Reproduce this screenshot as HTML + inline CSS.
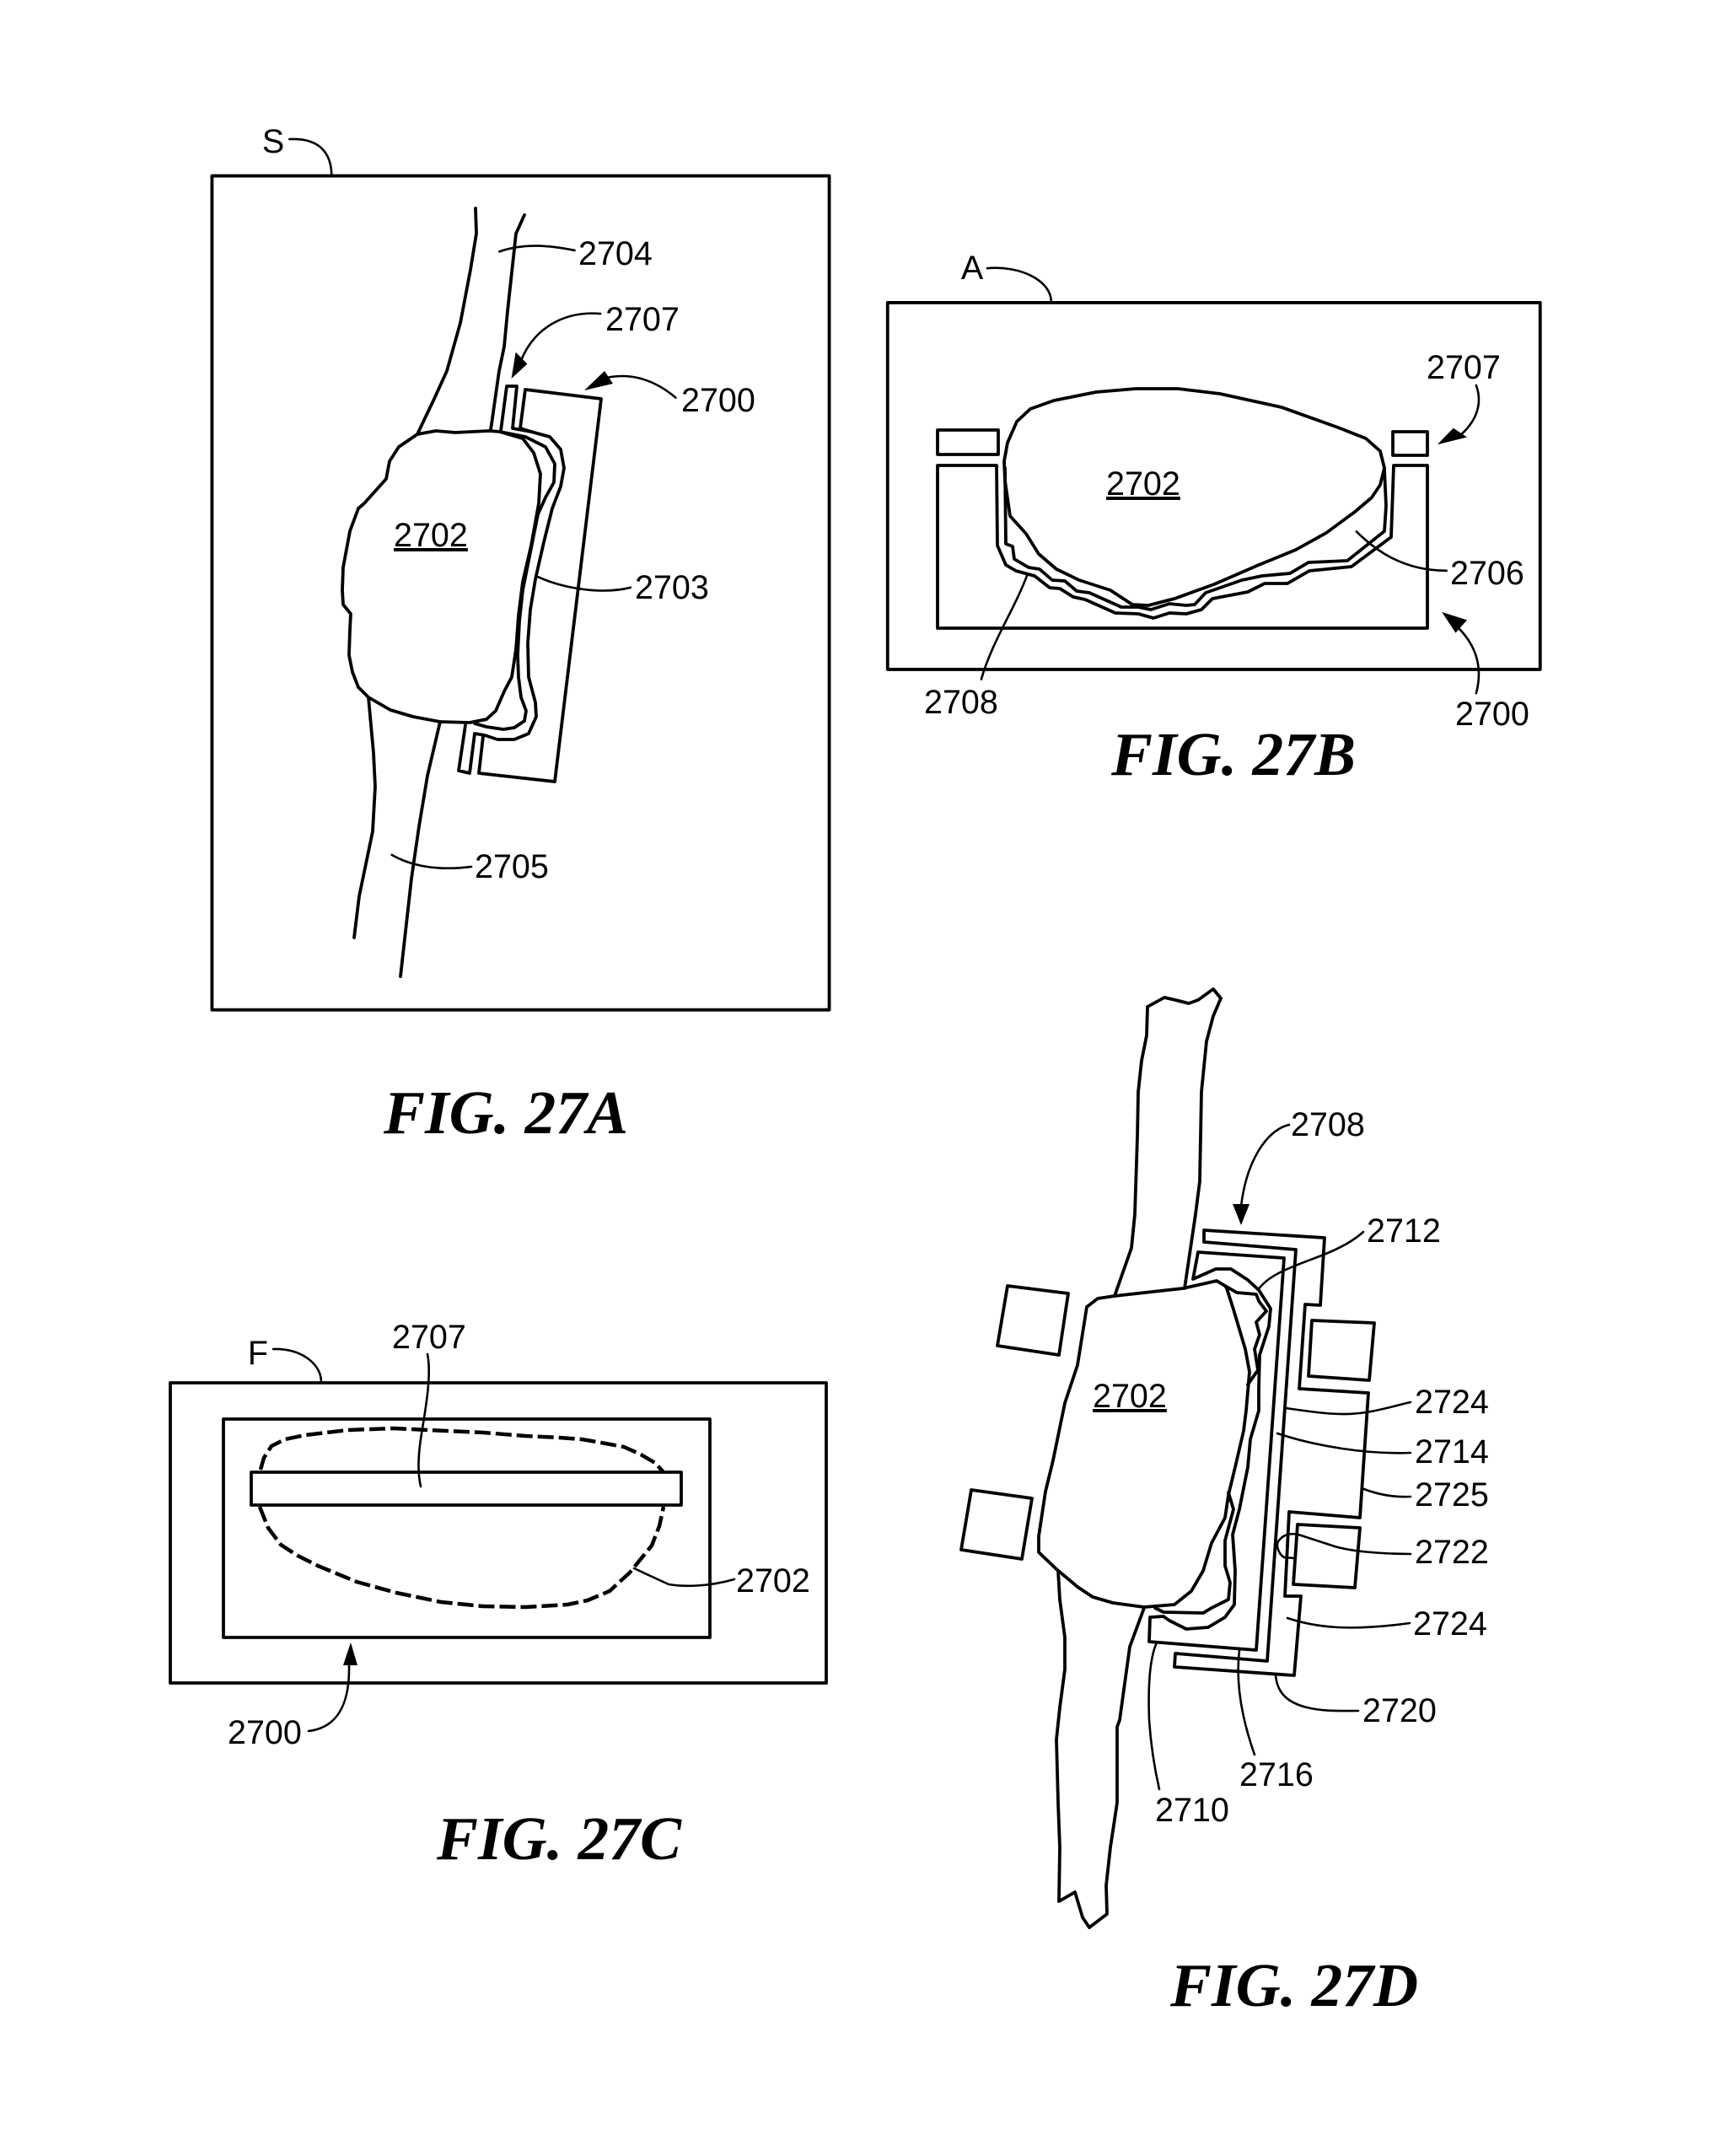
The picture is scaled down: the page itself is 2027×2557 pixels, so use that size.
<!DOCTYPE html>
<html><head><meta charset="utf-8"><style>
html,body{margin:0;padding:0;background:#fff}
svg{display:block}
.l{fill:none;stroke:#000;stroke-width:3.8;stroke-linejoin:round;stroke-linecap:round}
.t{fill:none;stroke:#000;stroke-width:2.6;stroke-linecap:round;stroke-linejoin:round}
.d{fill:none;stroke:#000;stroke-width:4.5;stroke-dasharray:19 6;stroke-linejoin:round}
path,rect,polyline,polygon{vector-effect:non-scaling-stroke}
text{font-family:"Liberation Sans",sans-serif;font-size:39.5px;fill:#000}
.f{font-family:"Liberation Serif",serif;font-weight:bold;font-style:italic;font-size:73.5px}
.u{text-decoration:underline}
</style></head><body>
<svg width="2027" height="2557" viewBox="0 0 2027 2557" xmlns="http://www.w3.org/2000/svg">
<rect width="2027" height="2557" fill="#fff"/>

<!-- FIG 27A -->
<g transform="translate(230 130) scale(.5102 .7015)">
<rect class="l" x="42" y="112" width="1435" height="1410"/>
<path class="t" d="M222,50 C270,48 320,60 320,112"/>
<path class="t" d="M710,240 C770,225 830,230 885,238"/>
<path class="t" d="M945,345 C860,340 790,370 760,425"/>
<polygon points="738,455 748,410 775,430" fill="#000"/>
<path class="t" d="M1120,487 C1060,450 1000,445 950,455"/>
<path class="t" d="M800,790 C860,810 950,820 1015,808"/>
<path class="t" d="M460,1260 C520,1285 590,1285 645,1280"/>
</g>
<polygon points="693,463 717,440 727,455" fill="#000"/>
<polyline class="l" points="564,247 565,277 558,320 546,383 530,440 515,473 495,515"/>
<polyline class="l" points="622,255 612,277 602,369 598,411 592,440 582,510"/>
<polyline class="l" points="437,827 443,893 445,933 442,986 426,1063 420,1112"/>
<polyline class="l" points="522,856 507,920 497,980 488,1042 475,1158"/>
<polyline class="l" points="573,873 568,917 658,927 713,473 623,462 617,508 630,512 652,518 665,533 669,555 665,577 655,603 645,643 635,687 629,723 626,763 627,803 635,833 636,850 627,870 610,877 590,877 575,872 563,870 557,917 544,914 552,860"/>
<polyline class="l" points="594,511 601,458 613,458 608,508 630,512"/>
<polyline class="l" points="593,512 623,518 647,530 658,550 657,572 647,590 638,610 628,660 620,700 616,737 614,777 615,803 618,827 624,843 622,855 610,863 597,865 577,862 563,858"/>
<polygon class="l" points="495,515 517,511 540,513 580,511 593,512 620,520 633,537 641,562 639,597 630,647 620,690 615,730 612,770 607,803 598,820 588,843 577,853 557,857 522,856 490,850 463,842 437,827 425,815 418,797 414,777 415,747 416,728 407,717 406,700 407,673 415,630 425,603 432,597 458,568 462,547 473,530"/>
<text x="324" y="181" text-anchor="middle">S</text>
<text x="686" y="314">2704</text>
<text x="718" y="392">2707</text>
<text x="808" y="488">2700</text>
<text x="753" y="710">2703</text>
<text x="563" y="1041">2705</text>
<text class="u" x="467" y="648">2702</text>
<text class="f" x="455" y="1344">FIG. 27A</text>

<!-- FIG 27B -->
<g transform="translate(1030 280) scale(.542 .4337)">
<rect class="l" x="42" y="182" width="1428" height="1003"/>
<path class="t" d="M260,88 C330,80 400,120 400,180"/>
<path class="t" d="M1068,808 C1110,860 1170,915 1265,915"/>
<path class="t" d="M348,925 C320,1020 270,1110 247,1212"/>
<path class="t" d="M1330,408 C1345,460 1330,510 1290,550"/>
<polygon points="1245,570 1280,525 1310,550" fill="#000"/>
<path class="t" d="M1330,1250 C1345,1180 1330,1120 1290,1070"/>
<polygon points="1255,1028 1310,1050 1285,1085" fill="#000"/>
</g>
<rect class="l" x="1112" y="510" width="72" height="29"/>
<rect class="l" x="1652" y="512" width="41" height="28"/>
<polyline class="l" points="1182,552 1112,552 1112,745 1693,745 1693,552 1653,552 1650,637 1603,672 1553,677 1527,692 1500,692 1480,702 1438,710 1425,723 1407,728 1387,727 1368,733 1350,728 1323,727 1287,711 1273,708 1257,698 1245,697 1227,683 1205,677 1193,670 1183,647 1182,552"/>
<polyline class="l" points="1192,555 1193,645 1201,648 1203,663 1220,673 1233,675 1248,688 1263,689 1277,701 1292,703 1330,720 1350,720 1365,723 1387,716 1407,718 1417,717 1430,703 1473,688 1497,683 1530,680 1552,667 1598,665 1642,630 1644,600 1642,557"/>
<polygon class="l" points="1206,500 1222,485 1250,475 1300,465 1347,461 1397,461 1447,467 1520,483 1587,507 1620,520 1637,535 1642,555 1637,575 1627,590 1607,607 1573,632 1537,652 1493,670 1440,693 1393,710 1362,718 1343,717 1317,700 1280,688 1253,675 1232,657 1217,633 1198,612 1192,570 1191,547 1195,525"/>
<text x="1153" y="331" text-anchor="middle">A</text>
<text x="1692" y="449">2707</text>
<text class="u" x="1312" y="587">2702</text>
<text x="1720" y="693">2706</text>
<text x="1096" y="846">2708</text>
<text x="1726" y="860">2700</text>
<text class="f" x="1318" y="919">FIG. 27B</text>

<!-- FIG 27C -->
<rect class="l" x="202" y="1640" width="778" height="356"/>
<rect class="l" x="265" y="1683" width="577" height="259"/>
<rect class="l" x="298" y="1746" width="510" height="39"/>
<polyline class="d" points="309,1743 313,1729 322,1715 338,1707 362,1702 413,1696 467,1694 507,1696 573,1699 623,1703 663,1705 690,1707 713,1711 740,1716 760,1725 777,1735 787,1746"/>
<polyline class="d" points="308,1787 318,1812 333,1832 353,1845 377,1857 423,1876 470,1889 523,1900 573,1905 623,1906 673,1903 697,1898 723,1887 747,1865 773,1833 782,1810 787,1787"/>
<path class="t" d="M507,1606 C512,1630 505,1670 500,1700 C496,1725 495,1745 499,1763"/>
<path class="t" d="M752,1860 L793,1879 C810,1882 840,1882 871,1873"/>
<path class="t" d="M324,1600 C358,1599 381,1618 381,1639"/>
<path class="t" d="M366,2053 C400,2049 415,2021 414,1975"/>
<polygon points="416,1948 407,1975 424,1975" fill="#000"/>
<text x="306" y="1618" text-anchor="middle">F</text>
<text x="465" y="1599">2707</text>
<text x="873" y="1888">2702</text>
<text x="270" y="2068">2700</text>
<text class="f" x="518" y="2205">FIG. 27C</text>

<!-- FIG 27D -->
<polyline class="l" points="1322,1537 1342,1480 1346,1440 1349,1348 1350,1295 1354,1258 1360,1228 1361,1194 1381,1183 1394,1186 1410,1190 1421,1186 1439,1173 1448,1184 1439,1205 1431,1235 1425,1295 1423,1401 1418,1440 1405,1528"/>
<polyline class="l" points="1255,1863 1257,1897 1263,1942 1263,1980 1257,2025 1253,2063 1255,2138 1257,2191 1256,2255 1275,2244 1284,2274 1292,2286 1313,2270 1312,2236 1317,2191 1325,2138 1325,2048 1328,2040 1340,1953 1357,1907"/>
<polygon class="l" points="1195,1525 1267,1534 1256,1607 1183,1596"/>
<polygon class="l" points="1152,1767 1224,1777 1212,1849 1140,1838"/>
<polygon class="l" points="1556,1566 1630,1569 1624,1637 1552,1632"/>
<polygon class="l" points="1539,1808 1613,1812 1607,1883 1534,1879"/>
<polygon class="l" points="1428,1459 1571,1468 1566,1548 1548,1547 1541,1647 1623,1652 1613,1800 1529,1793 1524,1893 1543,1893 1535,1987 1393,1977 1394,1961 1503,1970 1537,1482 1428,1473"/>
<polygon class="l" points="1415,1517 1421,1485 1523,1492 1490,1957 1363,1947 1364,1918 1380,1917 1387,1922 1407,1932 1433,1930 1453,1918 1464,1903 1465,1863 1462,1820 1470,1790 1480,1740 1483,1707 1493,1673 1493,1647 1494,1607 1505,1573 1507,1552 1493,1530 1480,1518 1460,1505 1442,1505"/>
<polyline class="l" points="1453,1525 1467,1533 1490,1535 1493,1543 1502,1555 1490,1568 1494,1583 1488,1600 1492,1625 1480,1642"/>
<polyline class="l" points="1457,1770 1463,1790 1453,1827 1453,1857 1459,1877 1457,1897 1437,1907 1427,1913 1380,1912 1370,1907"/>
<polygon class="l" points="1322,1537 1403,1528 1430,1522 1443,1519 1453,1525 1455,1528 1463,1553 1477,1600 1482,1627 1478,1673 1475,1697 1465,1740 1457,1773 1453,1800 1437,1830 1427,1863 1413,1887 1393,1903 1357,1906 1320,1901 1296,1894 1278,1882 1253,1861 1232,1841 1232,1822 1240,1769 1249,1732 1263,1664 1278,1619 1289,1550 1302,1540"/>
<path class="t" d="M1529,1334 C1502,1340 1478,1378 1472,1431"/>
<polygon points="1472,1453 1462,1428 1482,1428" fill="#000"/>
<path class="t" d="M1492,1530 C1505,1510 1540,1500 1570,1488 C1590,1480 1605,1472 1617,1461"/>
<path class="t" d="M1525,1670 C1560,1675 1590,1680 1620,1675 C1640,1672 1655,1667 1673,1663"/>
<path class="t" d="M1515,1700 C1560,1715 1620,1725 1673,1723"/>
<path class="t" d="M1615,1765 C1635,1773 1655,1776 1673,1775"/>
<path class="t" d="M1535,1848 L1523,1847 C1515,1842 1513,1830 1517,1827 C1522,1820 1530,1818 1540,1820 L1580,1833 C1600,1840 1640,1843 1673,1843"/>
<path class="t" d="M1527,1919 C1560,1930 1600,1935 1672,1925"/>
<path class="t" d="M1513,1987 C1515,2010 1530,2020 1550,2025 C1570,2030 1590,2029 1611,2029"/>
<path class="t" d="M1470,1957 C1466,1990 1470,2030 1488,2081"/>
<path class="t" d="M1372,1948 C1362,1970 1362,2010 1363,2040 C1365,2070 1370,2100 1375,2122"/>
<text x="1531" y="1347">2708</text>
<text x="1621" y="1473">2712</text>
<text x="1678" y="1676">2724</text>
<text x="1678" y="1735">2714</text>
<text x="1678" y="1786">2725</text>
<text x="1678" y="1854">2722</text>
<text x="1676" y="1939">2724</text>
<text x="1616" y="2042">2720</text>
<text x="1470" y="2118">2716</text>
<text x="1370" y="2160">2710</text>
<text class="u" x="1296" y="1669">2702</text>
<text class="f" x="1388" y="2379">FIG. 27D</text>
</svg>
</body></html>
